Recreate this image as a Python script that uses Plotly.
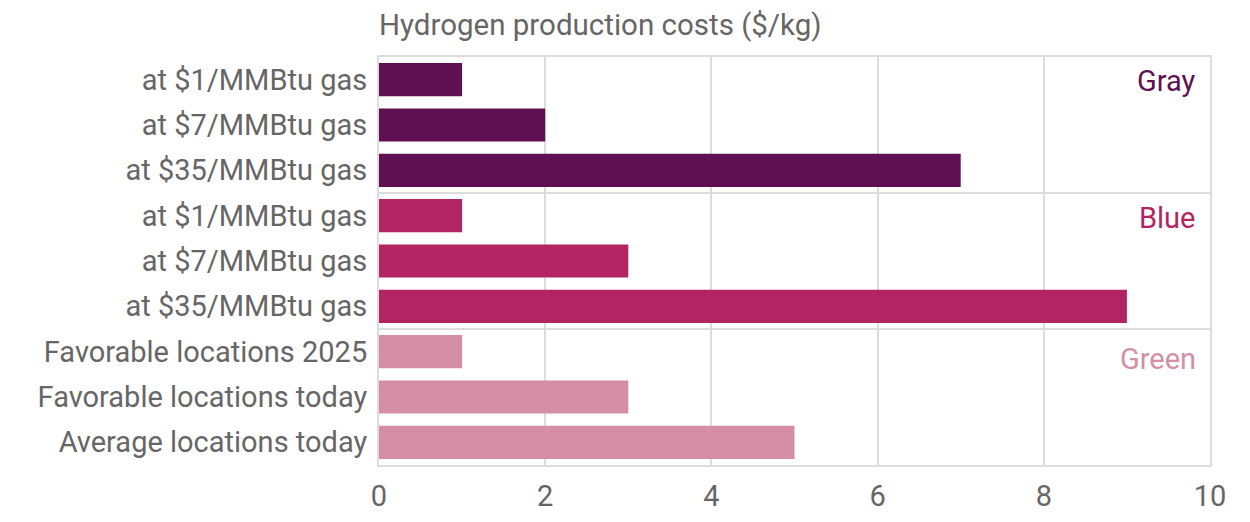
import plotly.graph_objects as go

categories = [
    "at $1/MMBtu gas", "at $7/MMBtu gas", "at $35/MMBtu gas",
    "at $1/MMBtu gas", "at $7/MMBtu gas", "at $35/MMBtu gas",
    "Favorable locations 2025", "Favorable locations today", "Average locations today",
]
values = [1, 2, 7, 1, 3, 9, 1, 3, 5]
groups = ["Gray", "Gray", "Gray", "Blue", "Blue", "Blue", "Green", "Green", "Green"]
group_names = ["Gray", "Blue", "Green"]
group_colors = {"Gray": "#5e1053", "Blue": "#b32462", "Green": "#d48fa6"}
x_ticks = [0, 2, 4, 6, 8, 10]

rows = list(range(len(categories)))

fig = go.Figure()
fig.add_trace(go.Bar(
    y=rows, x=values, orientation="h",
    marker=dict(color=[group_colors[g] for g in groups], line=dict(width=0)),
    customdata=categories, hovertemplate="%{customdata}: %{x}<extra></extra>",
))

grid = "#dddddd"
FS = 29
fig.update_layout(
    width=1242, height=514,
    margin=dict(l=371, r=40, t=49, b=57, autoexpand=False),
    paper_bgcolor="white", plot_bgcolor="white",
    bargap=0.27,
    showlegend=False,
    font=dict(family="Roboto, sans-serif", color="#666666"),
    xaxis=dict(
        range=[0, 10], tickvals=x_ticks, showgrid=True, gridcolor=grid, gridwidth=2,
        zeroline=False, showline=True, linecolor=grid, linewidth=2, mirror=True,
        ticks="", tickfont=dict(size=FS, color="#666666"), ticklabelstandoff=4,
        fixedrange=True,
    ),
    yaxis=dict(
        range=[8.5, -0.5], tickvals=rows, ticktext=categories,
        showgrid=False, zeroline=False,
        showline=True, linecolor=grid, linewidth=2, mirror=True,
        ticks="", tickfont=dict(size=FS, color="#666666"), ticklabelstandoff=4,
        fixedrange=True,
    ),
)

for yb in [2.5, 5.5]:
    fig.add_shape(type="line", xref="paper", x0=0, x1=1, yref="y", y0=yb, y1=yb,
                  line=dict(color=grid, width=2), layer="below")

label_rows = {"Gray": 0.03, "Blue": 3.05, "Green": 6.17}
for g in group_names:
    fig.add_annotation(x=9.85, y=label_rows[g], xref="x", yref="y", text=g,
                       showarrow=False, xanchor="right", yanchor="middle",
                       font=dict(size=FS, color=group_colors[g]))

fig.add_annotation(xref="paper", yref="paper", x=-0.002, y=1.0, yshift=32,
                   text="Hydrogen production costs ($/kg)", showarrow=False,
                   xanchor="left", yanchor="middle",
                   font=dict(size=29.5, color="#666666"))

fig.write_html("out.html")
